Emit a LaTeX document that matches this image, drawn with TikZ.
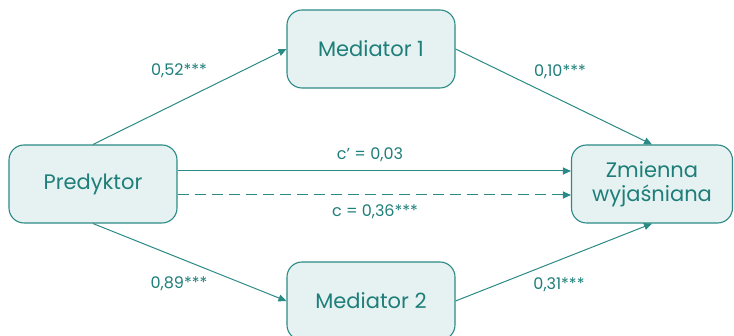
\documentclass[tikz,border=0pt]{standalone}
\usepackage{fontspec}
\setmainfont{Poppins}
\usetikzlibrary{arrows.meta}
\definecolor{tealline}{HTML}{2A8A85}
\definecolor{tealfill}{HTML}{E6F2F1}
\definecolor{tealtext}{HTML}{1E7E79}
\begin{document}
\begin{tikzpicture}[x=1pt,y=-1pt,
  box/.style={draw=tealline,fill=tealfill,line width=1.1pt,rounded corners=15pt,
    minimum width=168pt,minimum height=78pt,inner sep=0pt,align=center,
    text=tealtext,font=\fontsize{21}{24}\selectfont},
  conn/.style={draw=tealline,line width=1pt,-{Triangle[length=8pt,width=7pt]}},
  lab/.style={text=tealtext,font=\fontsize{16}{18}\selectfont,inner sep=0pt}]
\useasboundingbox (0,0) rectangle (734,336);
\node[box] (pred) at (93,184) {Predyktor};
\node[box] (med1) at (371,49) {Mediator 1};
\node[box] (med2) at (371,301) {Mediator 2};
\node[box,minimum width=161pt] (out) at (652,184) {Zmienna\\wyjaśniana};
\draw[conn] (pred.north) -- (med1.west);
\draw[conn] (med1.east) -- (out.north);
\draw[conn] (pred.south) -- (med2.west);
\draw[conn] (med2.east) -- (out.south);
\draw[conn] (pred.east |- 0,171) -- (out.west |- 0,171);
\draw[conn,dash pattern=on 11pt off 6pt] (pred.east |- 0,195) -- (out.west |- 0,195);
\node[lab] (l1) at (179,71) {0,52***};
\node[lab] (l2) at (560,72) {0,10***};
\node[lab] (l3) at (370,155) {c’ = 0,03};
\node[lab] (l4) at (375,212) {c = 0,36***};
\node[lab] (l5) at (179,284) {0,89***};
\node[lab] (l6) at (559,285) {0,31***};
\end{tikzpicture}
\end{document}
